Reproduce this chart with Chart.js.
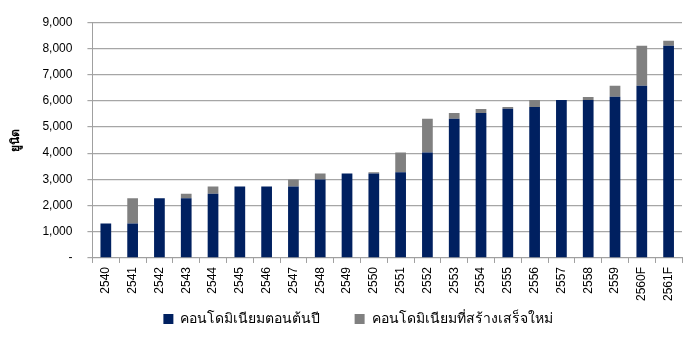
<!DOCTYPE html>
<html>
<head>
<meta charset="utf-8">
<script src="https://cdn.jsdelivr.net/npm/chart.js@4"></script>
<style>
  html, body { margin: 0; padding: 0; background: #fff; }
  #wrap { width: 700px; height: 338px; }
</style>
</head>
<body>
<div id="wrap"><canvas id="condo-chart"></canvas></div>
<script>
// years on the x axis
const years = ['2540', '2541', '2542', '2543', '2544', '2545', '2546', '2547', '2548', '2549', '2550',
    '2551', '2552', '2553', '2554', '2555', '2556', '2557', '2558', '2559', '2560F', '2561F'];

// units at start of year (navy)
const startOfYear = [1320, 1320, 2280, 2280, 2450, 2730, 2730, 2730, 3000, 3220, 3220,
    3270, 4030, 5310, 5530, 5700, 5760, 6030, 6030, 6150, 6570, 8100];

// newly completed units (grey, stacked on top)
const newlyBuilt = [0, 960, 0, 170, 280, 0, 0, 270, 220, 0, 50,
    760, 1280, 220, 160, 60, 270, 0, 110, 420, 1530, 190];

const yTicks = [0, 1000, 2000, 3000, 4000, 5000, 6000, 7000, 8000, 9000];

const fontFamily = "Arial, 'Liberation Sans', 'Noto Sans', 'DejaVu Sans', sans-serif";

// nudge the legend a bit to the right, like the original
const legendShift = {
    id: 'legendShift',
    afterLayout: function(chart) {
        chart.legend.left += 15;
        chart.legend.right += 15;
    }
};

const ctx = document.getElementById('condo-chart').getContext('2d');

var chart = new Chart(ctx, {
    type: 'bar',
    data: {
        labels: years,
        datasets: [{
            label: 'คอนโดมิเนียมตอนต้นปี',
            backgroundColor: '#002060',
            data: startOfYear
        }, {
            label: 'คอนโดมิเนียมที่สร้างเสร็จใหม่',
            backgroundColor: '#808080',
            data: newlyBuilt
        }]
    },
    plugins: [legendShift],
    options: {
        responsive: true,
        maintainAspectRatio: false,
        animation: false,
        layout: { padding: { left: 4, right: 18, top: 18, bottom: 2 } },
        datasets: {
            bar: { barPercentage: 0.4, categoryPercentage: 1.0 }
        },
        plugins: {
            tooltip: { enabled: false },
            legend: {
                position: 'bottom',
                labels: {
                    boxWidth: 10,
                    boxHeight: 10,
                    padding: 7,
                    color: '#000',
                    font: { family: fontFamily, size: 14 },
                    // widen the gap between the two items without growing the legend height
                    generateLabels: function(chart) {
                        const items = Chart.defaults.plugins.legend.labels.generateLabels(chart);
                        items[0].text = items[0].text + '\u00a0\u00a0\u00a0\u00a0\u00a0\u00a0\u00a0';
                        return items;
                    }
                }
            }
        },
        scales: {
            x: {
                stacked: true,
                grid: {
                    drawOnChartArea: false,
                    tickLength: 5,
                    color: '#a0a0a0'
                },
                border: { color: '#a0a0a0' },
                ticks: {
                    minRotation: 90,
                    maxRotation: 90,
                    color: '#000',
                    padding: 4,
                    font: { family: fontFamily, size: 12 }
                }
            },
            y: {
                stacked: true,
                min: 0,
                max: 9000,
                afterBuildTicks: function(axis) {
                    axis.ticks = yTicks.map(function(v) { return { value: v }; });
                },
                grid: {
                    color: '#a6a6a6',
                    tickLength: 5,
                    lineWidth: 1.2
                },
                border: { color: '#a0a0a0' },
                title: {
                    display: true,
                    text: 'ยูนิต',
                    color: '#000',
                    font: { family: fontFamily, size: 12, weight: 'bold' },
                    padding: { top: 4, bottom: 5 }
                },
                ticks: {
                    color: '#000',
                    padding: 15,
                    font: { family: fontFamily, size: 12 },
                    callback: function(value) {
                        return value === 0 ? '-' : value.toLocaleString('en-US');
                    }
                }
            }
        }
    }
});
</script>
</body>
</html>
